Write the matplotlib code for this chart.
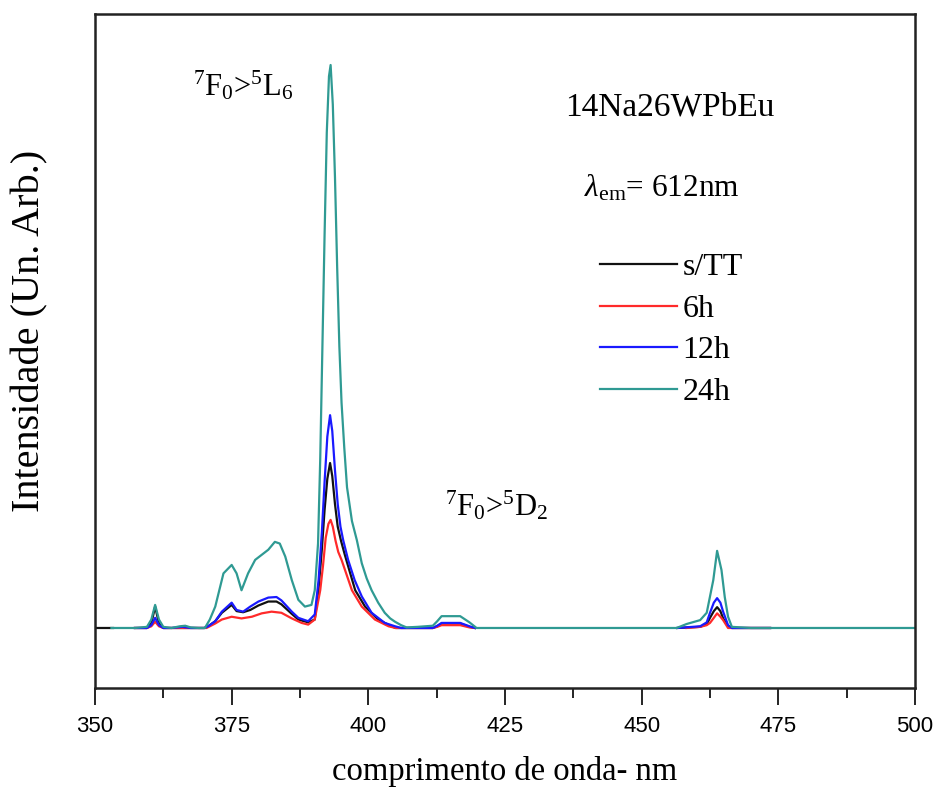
import numpy as np
import matplotlib
matplotlib.use("Agg")
import matplotlib.pyplot as plt
from matplotlib.ticker import MultipleLocator

nan = np.nan

# Excitation spectra (emission monitored at 612 nm), arbitrary intensity units
wl_24h = [353, 357.3, 359.5, 360.3, 361.0, 361.7, 362.5, 364, 365.5, 366.5, 367.5, 369,
          370.1, 371, 372, 373.5, 375.0, 375.9, 376.8, 378.0, 379.3, 380.5, 381.7, 382.9,
          383.8, 384.8, 386.0, 387.2, 388.4, 389.6, 390.2, 390.8, 391.2, 391.6, 392.0,
          392.4, 392.8, 393.1, 393.5, 393.9, 394.3, 394.7, 395.1, 395.6, 396.1, 397.0,
          397.9, 398.8, 399.7, 400.6, 401.8, 403.0, 404.0, 404.9, 406.0, 407.0, 409,
          411.8, 412.6, 413.4, 416.8, 418.5, 419.8, 430, 456.4, 458.2, 460.7, 461.9,
          463.1, 463.8, 464.6, 465.2, 465.8, 466.5, 470, 500]
i_24h = [0, 0, 2, 15, 41, 15, 2, 0, 3, 4, 1, 0,
         0, 15, 38, 97, 112, 97, 67, 97, 121, 130, 139, 153,
         150, 127, 85, 50, 38, 41, 67, 150, 300, 500, 700,
         880, 980, 1000, 930, 800, 640, 500, 400, 320, 250, 190,
         156, 115, 88, 67, 45, 27, 17, 11, 5, 1, 2,
         4, 12, 21, 21, 10, 0, 0, 0, 7, 14, 27,
         85, 137, 103, 55, 20, 2, 0, 0]

wl_12h = [357.3, 359.5, 360.3, 361.0, 361.7, 362.5, 364, 366, 367.5, 370, 370.7, 372,
          373.2, 375.0, 375.9, 377.1, 378.4, 379.9, 381.7, 383.2, 384.1, 386.0, 387.2,
          389.0, 390.2, 390.9, 391.5, 392.0, 392.5, 393.0, 393.4, 393.9, 394.4, 394.9,
          395.4, 396.3, 397.5, 398.8, 400.6, 403.0, 404.9, 406.0, 411.8, 412.6, 413.4,
          416.8, 418.5, 419.5, nan, 456.5, 460.7, 461.9, 462.5, 463.2, 463.8, 464.4,
          464.9, 465.8, 466.5, 473.5]
i_12h = [0, 0, 5, 18, 5, 0, 0, 2, 0, 0, 3, 12,
         29, 45, 32, 29, 38, 47, 54, 55, 49, 29, 18,
         12, 24, 85, 170, 260, 340, 378, 350, 280, 220, 180,
         156, 121, 85, 56, 27, 9, 3, 0, 0, 4, 9,
         9, 3, 0, nan, 0, 3, 10, 27, 45, 53, 45,
         29, 5, 0, 0]

wl_sTT = [350, 353.3, nan, 357.3, 359.5, 360.3, 361.0, 361.7, 362.5, 364, 367.5, 370,
          370.7, 372, 373.2, 375.0, 375.9, 377.1, 378.4, 379.9, 381.7, 383.2, 384.1,
          386.0, 387.2, 389.0, 390.2, 390.9, 391.5, 392.0, 392.5, 393.0, 393.4, 393.9,
          394.4, 395.0, 395.7, 396.6, 397.6, 399.4, 401.8, 404.0, 405.0, 411.8, 412.6,
          413.4, 416.8, 418.5, 419.5, nan, 456.5, 460.7, 461.9, 462.5, 463.2, 463.8,
          464.4, 464.9, 465.8, 466.5, 473.5]
i_sTT = [0, 0, nan, 0, 0, 8, 38, 8, 0, 0, 0, 0,
         3, 12, 27, 41, 30, 28, 32, 40, 47, 47, 42,
         25, 15, 10, 15, 70, 140, 210, 265, 293, 270, 220,
         180, 155, 130, 100, 67, 38, 15, 4, 0, 0, 3,
         8, 8, 2, 0, nan, 0, 2, 7, 18, 30, 37,
         30, 17, 3, 0, 0]

wl_6h = [357.3, 359.5, 360.3, 361.0, 361.7, 362.5, 364, 367.5, 370.4, 372, 373.2, 375.0,
         376.8, 378.7, 380.5, 382.3, 384.1, 386.0, 387.8, 389.0, 390.2, 391.2, 391.7,
         392.2, 392.7, 393.1, 393.5, 394.0, 394.5, 395.1, 397.0, 398.8, 401.2, 403.7,
         405.0, 411.8, 412.6, 413.4, 416.8, 418.5, 419.5, nan, 458.2, 460.7, 461.9,
         462.5, 463.2, 463.8, 464.4, 464.9, 465.8, 466.5, 473.5]
i_6h = [0, 0, 3, 11, 3, 0, 0, 0, 0, 8, 15, 20,
        17, 20, 26, 29, 27, 17, 9, 6, 15, 67, 110,
        160, 185, 192, 180, 155, 135, 121, 67, 38, 15, 3,
        0, 0, 2, 5, 5, 1, 0, nan, 0, 2, 5,
        9, 18, 26, 20, 14, 0, 0, 0]

series = [
    ("s/TT", wl_sTT, i_sTT, "#111111"),
    ("6h", wl_6h, i_6h, "#ff2a2a"),
    ("12h", wl_12h, i_12h, "#1a1aff"),
    ("24h", wl_24h, i_24h, "#2f9a93"),
]

x_ticks = [350, 375, 400, 425, 450, 475, 500]

plt.rcParams["font.family"] = ["Liberation Serif", "DejaVu Serif"]
plt.rcParams["mathtext.fontset"] = "custom"
plt.rcParams["mathtext.rm"] = "Liberation Serif"
plt.rcParams["mathtext.it"] = "Liberation Serif:italic"

fig = plt.figure(figsize=(9.36, 7.89), dpi=100)
ax = fig.add_axes([95 / 936, 1 - 688 / 789, 820 / 936, 674 / 789])

for label, wl, inten, color in series:
    ax.plot(wl, inten, color=color, lw=1.6, label=label)

ax.set_xlim(350, 500)
ax.set_ylim(-106.6, 1090.6)
ax.set_xticks(x_ticks)
ax.xaxis.set_minor_locator(MultipleLocator(12.5))
ax.set_yticks([])
ax.tick_params(axis="x", which="major", direction="out", length=12, width=1.2,
               pad=8, labelsize=16, labelfontfamily="Liberation Sans")
ax.tick_params(axis="x", which="minor", direction="out", length=7, width=1.2)
for sp in ax.spines.values():
    sp.set_linewidth(1.8)
    sp.set_color("#222222")

ax.set_xlabel("comprimento de onda- nm", fontsize=23.5, labelpad=14)
ax.set_ylabel("Intensidade (Un. Arb.)", fontsize=29, va="center")
ax.yaxis.set_label_coords(-0.079, 0.53)

ax.text(377.1, 964, r"$^7$F$_0$>$^5$L$_6$", fontsize=22, ha="center", va="center")
ax.text(423.5, 218, r"$^7$F$_0$>$^5$D$_2$", fontsize=22, ha="center", va="center")
ax.text(455.2, 925, "14Na26WPbEu", fontsize=24, ha="center", va="center")
ax.text(453.7, 781, r"$\lambda_{\mathrm{em}}$= 612nm", fontsize=22.5, ha="center", va="center")

leg = ax.legend(loc="upper left", bbox_to_anchor=(600 / 936, 1 - 253 / 789),
                bbox_transform=fig.transFigure, frameon=False, fontsize=23,
                handlelength=2.4, handletextpad=0.18, labelspacing=0.38,
                borderpad=0, borderaxespad=0)

fig.savefig("out.png", dpi=100)
